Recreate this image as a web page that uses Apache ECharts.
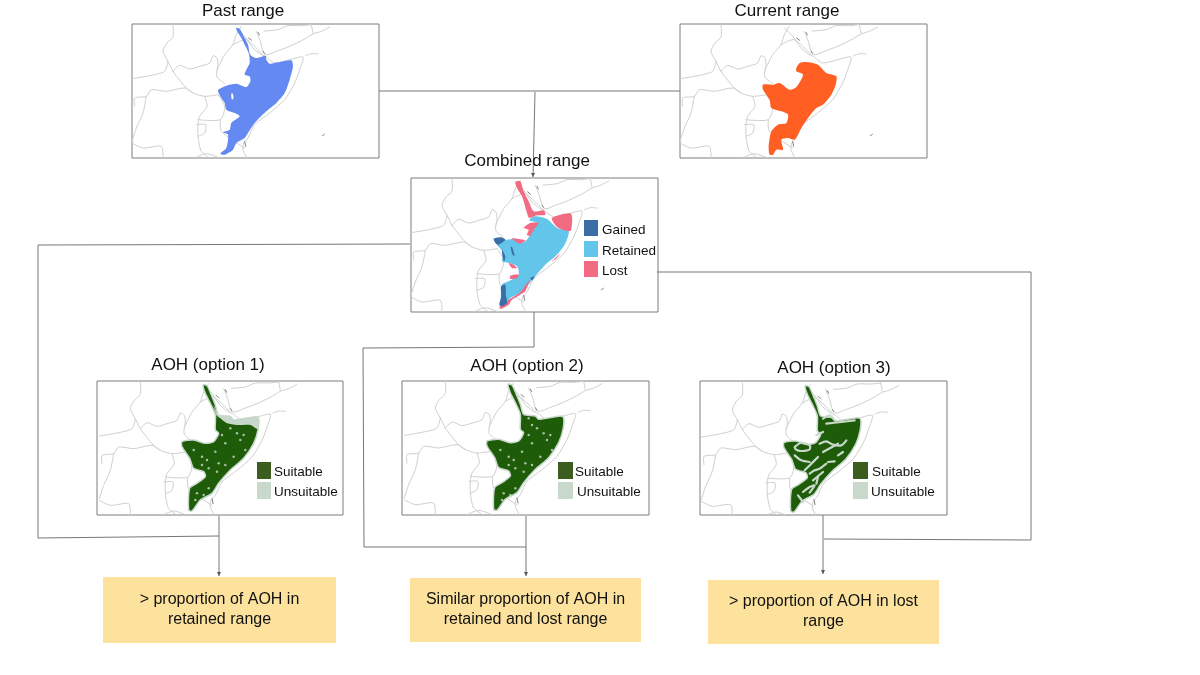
<!DOCTYPE html>
<html>
<head>
<meta charset="utf-8">
<title>Range and AOH diagram</title>
<script src="https://cdn.jsdelivr.net/npm/echarts@6/dist/echarts.min.js"></script>
<style>
html,body{margin:0;padding:0;background:#fff;}
#chart{width:1200px;height:675px;}
</style>
</head>
<body>
<div id="chart"></div>
<script>
// map units: all outlines below share one map space
var countryBorders = [
	[[600,82],[575,95],[550,103],[525,118],[480,140],[440,155],[415,165],[405,163]],
	[[545,75],[550,100]],
	[[403,94],[445,90],[475,78],[515,78],[545,75]],
	[[380,95],[392,125],[400,155],[405,163]],
	[[320,85],[345,110],[370,145],[395,165],[408,170]],
	[[310,135],[330,125],[350,120],[375,140],[400,165]],
	[[335,80],[320,105],[310,135],[285,165],[272,190],[262,212],[262,232],[285,252]],
	[[410,172],[435,190],[480,180],[520,172],[512,205],[495,250],[465,300],[420,340],[375,375],[355,415],[342,430],[340,450],[352,475]],
	[[130,75],[130,112],[112,130],[100,155],[115,185],[130,215],[145,235],[170,265],[190,280],[225,290],[265,285]],
	[[130,215],[150,197],[180,208],[210,200],[240,190],[250,168],[262,175],[265,195],[262,212]],
	[[115,185],[105,215],[60,228],[7,237]],
	[[15,320],[15,295],[50,290],[65,270],[110,275],[165,265],[190,280]],
	[[50,290],[40,340],[20,385],[7,425]],
	[[225,290],[232,320],[210,350],[205,375],[205,410],[210,440],[215,455],[240,475]],
	[[265,285],[285,320],[272,360],[205,360]],
	[[200,375],[228,375],[225,400],[205,410]],
	[[272,360],[275,395],[345,445]],
	[[7,430],[40,445],[95,440],[100,475]],
	[[195,475],[230,462],[270,475]],
	[[528,168],[545,162],[565,163]]
];
var islandSpecks = [
	[[385,98],[389,106]],
	[[357,115],[366,122]],
	[[401,155],[404,161]],
	[[345,425],[348,440]],
	[[578,408],[584,404]]
];

var pastRange = [[320,85],[330,87],[345,115],[355,135],[362,165],[380,175],[408,168],[410,180],[420,192],[445,188],[485,182],[490,200],[480,240],[465,280],[440,310],[410,335],[375,370],[355,400],[345,415],[320,430],[310,450],[285,465],[272,462],[290,445],[295,405],[280,398],[300,390],[305,370],[330,350],[315,340],[290,330],[285,310],[275,295],[265,272],[290,258],[320,252],[350,262],[362,245],[360,230],[345,225],[350,210],[360,190],[357,160],[345,135],[335,115],[322,95]];
var pastHole = [[305,282],[310,282],[311,298],[306,298]];

var currentRange = [[356,205],[366,190],[386,187],[421,195],[446,220],[476,230],[474,255],[461,285],[436,315],[416,325],[391,355],[371,385],[351,420],[331,415],[311,420],[316,450],[296,450],[286,465],[276,465],[273,440],[281,395],[301,375],[326,370],[331,345],[311,335],[281,325],[276,300],[256,270],[256,255],[286,255],[306,250],[336,270],[356,262],[376,225],[356,215]];

var retainedRange = [[362,200],[378,188],[415,196],[445,223],[480,233],[468,273],[440,308],[410,333],[375,373],[355,398],[335,418],[305,433],[295,450],[278,453],[280,393],[300,383],[330,363],[325,338],[300,328],[280,323],[285,298],[265,270],[310,256],[335,268],[355,258],[375,223],[385,208]];
var lostRange = [
	[[320,85],[335,83],[345,113],[360,143],[375,173],[405,170],[410,183],[385,185],[362,193],[355,178],[340,128],[325,103]],
	[[430,193],[487,180],[488,228],[480,233],[445,220]],
	[[345,223],[365,208],[390,208],[375,228],[365,246],[355,243],[360,228]],
	[[310,253],[330,256],[350,260],[335,270],[315,260]],
	[[465,283],[445,313],[430,323],[455,298]],
	[[300,328],[315,333],[325,343],[310,343]],
	[[305,366],[330,363],[325,373],[305,376]],
	[[362,380],[350,413],[335,423],[310,438],[300,453],[275,466],[273,458],[295,443],[308,433],[335,416]]
];
var gainedRange = [
	[[255,256],[275,251],[290,258],[270,273],[262,270]],
	[[280,288],[290,308],[287,323],[282,310]],
	[[306,280],[310,280],[318,306],[312,304]],
	[[277,398],[290,393],[292,428],[295,448],[280,458],[272,453],[278,428]],
	[[365,373],[378,368],[370,380]]
];

var aohOutline = [[318,84],[330,86],[345,119],[355,144],[365,174],[400,179],[410,189],[475,179],[485,184],[483,219],[470,259],[440,304],[400,339],[365,379],[345,409],[310,429],[285,462],[275,459],[278,394],[300,379],[325,359],[320,344],[290,334],[278,304],[255,269],[255,254],[290,249],[325,259],[350,254],[365,229],[355,219],[355,174],[340,139],[325,109]];
var option1Band = [[350,144],[365,174],[400,176],[412,189],[477,179],[485,184],[483,216],[460,204],[420,204],[390,199],[370,184],[358,174]];
var option1Flecks = [[290,279],[315,299],[330,309],[315,324],[365,319],[385,324],[410,299],[445,279],[440,234],[385,259],[355,284],[400,214],[420,229],[375,234],[300,409],[320,414],[335,394],[295,429],[360,344],[335,334],[430,249]];
var option2Flecks = [[295,281],[320,301],[335,311],[320,326],[370,321],[390,326],[415,301],[450,281],[445,236],[390,261],[360,286],[405,216],[425,231],[380,236],[380,186],[390,206],[305,411],[325,416],[340,396],[300,431],[365,346],[340,336],[435,251]];
var option3Streaks = [
	[[287,267],[305,255],[332,262],[332,274],[305,279],[290,274],[287,267]],
	[[362,257],[382,250],[402,260],[427,262],[442,247]],
	[[372,182],[392,172],[407,187]],
	[[382,197],[427,192],[467,187]],
	[[387,312],[407,310]],
	[[417,292],[432,282]],
	[[332,347],[347,337],[362,332],[382,317]],
	[[342,367],[372,342]],
	[[352,377],[357,357]],
	[[312,402],[332,387],[347,382],[332,404]],
	[[287,292],[307,307],[332,312]],
	[[317,337],[337,317],[357,297]],
	[[372,282],[417,257]],
	[[297,412],[312,432]],
	[[352,232],[372,222]]
];

var pastColor = '#648AF2', currentColor = '#FF5F22';
var gainedColor = '#3A6EA5', retainedColor = '#63C5EA', lostColor = '#F26B83';
var suitableColor = '#1E5C0A', unsuitableColor = '#C8D9CB', swatchSuitable = '#3B5E1E';
var lineColor = '#777777', frameColor = '#7d7d7d', borderColor = '#cfcfcf';
var fontName = '"Liberation Sans", Arial, sans-serif';

var panels = [
	{name:'Past range', left:132, top:24, width:247, height:134, dx:0, dy:0, tx:243, ty:11},
	{name:'Current range', left:680, top:24, width:247, height:134, dx:0, dy:0, tx:787, ty:11},
	{name:'Combined range', left:411, top:178, width:247, height:134, dx:0, dy:0, tx:527, ty:161},
	{name:'AOH (option 1)', left:97, top:381, width:246, height:134, dx:7, dy:1, tx:208, ty:365},
	{name:'AOH (option 2)', left:402, top:381, width:247, height:134, dx:7, dy:-1, tx:527, ty:366},
	{name:'AOH (option 3)', left:700, top:381, width:247, height:134, dx:4, dy:4, tx:834, ty:368}
];

var outcomeBoxes = [
	{x:103, y:577, w:233, h:66, lines:['> proportion of AOH in','retained range'], ly:[600,620]},
	{x:410, y:578, w:231, h:64, lines:['Similar proportion of AOH in','retained and lost range'], ly:[600,620]},
	{x:708, y:580, w:231, h:64, lines:['> proportion of AOH in lost','range'], ly:[602,622]}
];

var connectors = [
	[[379,91],[680,91]],
	[[410,244],[38,245],[38,538],[219,536]],
	[[534,312],[534,347],[363,348],[364,547],[526,547]],
	[[657,272],[1031,272],[1031,540],[824,539]]
];
var arrows = [
	[[535,92],[533,177]],
	[[219,516],[219,576]],
	[[526,516],[526,576]],
	[[823,515],[823,574]]
];

var legendBlocks = [
	{x:584, w:14, h:16, items:[['Gained',gainedColor,220,602],['Retained',retainedColor,241,602],['Lost',lostColor,261,602]]},
	{x:257, w:14, h:17, items:[['Suitable',swatchSuitable,462,274],['Unsuitable',unsuitableColor,482,274]]},
	{x:558, w:15, h:17, items:[['Suitable',swatchSuitable,462,575],['Unsuitable',unsuitableColor,482,577]]},
	{x:853, w:15, h:17, items:[['Suitable',swatchSuitable,462,872],['Unsuitable',unsuitableColor,482,871]]}
];

var grids = [], xAxes = [], yAxes = [], series = [], graphics = [];

function addShapes(idx, shapes, style, closed) {
	series.push({
		type: 'custom',
		xAxisIndex: idx,
		yAxisIndex: idx,
		coordinateSystem: 'cartesian2d',
		clip: true,
		silent: true,
		animation: false,
		encode: {x: 0, y: 1},
		data: shapes.map(function (s) { return [s[0][0], s[0][1]]; }),
		renderItem: function (params, api) {
			var pts = shapes[params.dataIndex].map(function (p) { return api.coord(p); });
			return {
				type: closed ? 'polygon' : 'polyline',
				shape: {points: pts, smooth: 0.25},
				style: closed ? style : {fill: null, stroke: style.stroke, lineWidth: style.lineWidth, lineJoin: 'round', lineCap: 'round'}
			};
		}
	});
}
function addFlecks(idx, points) {
	series.push({
		type: 'scatter', xAxisIndex: idx, yAxisIndex: idx, silent: true, animation: false,
		symbolSize: 2.5, itemStyle: {color: unsuitableColor}, data: points
	});
}

panels.forEach(function (p, i) {
	grids.push({left: p.left, top: p.top, width: p.width, height: p.height, show: true,
		backgroundColor: '#fff', borderColor: frameColor, borderWidth: 1});
	xAxes.push({gridIndex: i, type: 'value', show: false, min: 7 - p.dx, max: 7 - p.dx + p.width * 3});
	yAxes.push({gridIndex: i, type: 'value', show: false, inverse: true, min: 73 - p.dy, max: 73 - p.dy + p.height * 3});
	addShapes(i, countryBorders, {stroke: borderColor, lineWidth: 1}, false);
	addShapes(i, islandSpecks, {stroke: '#777', lineWidth: 1}, false);
	graphics.push({type: 'text', z: 20, style: {x: p.tx, y: p.ty, text: p.name, font: '17px ' + fontName,
		fill: '#111', textAlign: 'center', textVerticalAlign: 'middle'}});
});

var fill = function (c) { return {fill: c}; };
addShapes(0, [pastRange], fill(pastColor), true);
addShapes(0, [pastHole], fill('#fff'), true);
addShapes(1, [currentRange], fill(currentColor), true);
addShapes(2, [retainedRange], fill(retainedColor), true);
addShapes(2, lostRange, fill(lostColor), true);
addShapes(2, gainedRange, fill(gainedColor), true);

[3, 4, 5].forEach(function (i) {
	addShapes(i, [aohOutline], {fill: suitableColor, stroke: unsuitableColor, lineWidth: 1.5}, true);
});
addShapes(3, [option1Band], fill(unsuitableColor), true);
addFlecks(3, option1Flecks);
addFlecks(4, option2Flecks);
addShapes(5, option3Streaks, {stroke: unsuitableColor, lineWidth: 2.2}, false);

connectors.forEach(function (c) {
	graphics.push({type: 'polyline', z: 1, shape: {points: c}, style: {stroke: lineColor, fill: null, lineWidth: 1}});
});
arrows.forEach(function (a) {
	var e = a[1];
	graphics.push({type: 'polyline', z: 1, shape: {points: a}, style: {stroke: lineColor, fill: null, lineWidth: 1}});
	graphics.push({type: 'polygon', z: 1, shape: {points: [[e[0] - 2, e[1] - 4], [e[0] + 2, e[1] - 4], e]}, style: {fill: '#555'}});
});
outcomeBoxes.forEach(function (b) {
	graphics.push({type: 'rect', z: 2, shape: {x: b.x, y: b.y, width: b.w, height: b.h}, style: {fill: '#FCE29C'}});
	b.lines.forEach(function (t, k) {
		graphics.push({type: 'text', z: 20, style: {x: b.x + b.w / 2, y: b.ly[k], text: t, font: '16px ' + fontName,
			fill: '#111', textAlign: 'center', textVerticalAlign: 'middle'}});
	});
});
legendBlocks.forEach(function (l) {
	l.items.forEach(function (it) {
		graphics.push({type: 'rect', z: 20, shape: {x: l.x, y: it[2], width: l.w, height: l.h}, style: {fill: it[1]}});
		graphics.push({type: 'text', z: 20, style: {x: it[3], y: it[2] + l.h / 2 + 2, text: it[0], font: '13.5px ' + fontName,
			fill: '#111', textAlign: 'left', textVerticalAlign: 'middle'}});
	});
});

var chart = echarts.init(document.getElementById('chart'));
chart.setOption({
	backgroundColor: '#fff',
	animation: false,
	grid: grids,
	xAxis: xAxes,
	yAxis: yAxes,
	series: series,
	graphic: {elements: graphics}
});
</script>
</body>
</html>
